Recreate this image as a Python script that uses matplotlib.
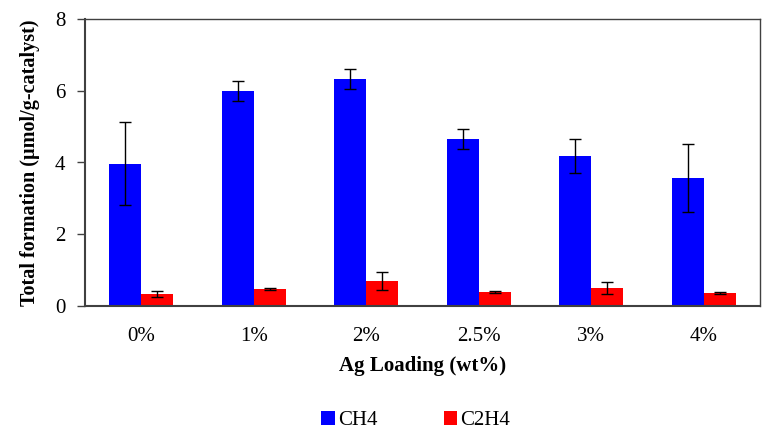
import numpy as np
import matplotlib.pyplot as plt

plt.rcParams['font.family'] = ['Liberation Serif', 'DejaVu Serif']

# Data
loadings = ['0%', '1%', '2%', '2.5%', '3%', '4%']
ch4 = [3.97, 6.00, 6.33, 4.65, 4.19, 3.56]
ch4_err = [1.15, 0.28, 0.28, 0.28, 0.47, 0.95]
c2h4 = [0.33, 0.47, 0.69, 0.39, 0.50, 0.36]
c2h4_err = [0.09, 0.02, 0.25, 0.02, 0.17, 0.02]

fig = plt.figure(figsize=(7.74, 4.36), dpi=100)
ax = fig.add_axes([85 / 774, 1 - 306 / 436, 675 / 774, 287 / 436])

x = np.arange(len(loadings))
w = 0.285
err_kw = dict(ecolor='black', elinewidth=1.0, capsize=4, capthick=1.0)
ax.bar(x - w / 2, ch4, w, yerr=ch4_err, color='#0000ff', label='CH4', error_kw=err_kw)
ax.bar(x + w / 2, c2h4, w, yerr=c2h4_err, color='#ff0000', label='C2H4', error_kw=err_kw)

ax.set_xlim(-0.5, len(loadings) - 0.5)
ax.set_ylim(0, 8)
ax.set_yticks([0, 2, 4, 6, 8])
ax.set_xticks(x)
ax.set_xticklabels(loadings)
ax.tick_params(axis='x', length=0, pad=15, labelsize=15)
ax.tick_params(axis='y', length=6, width=1, color='#404040', labelsize=15, pad=8)

for side in ['top', 'right']:
    ax.spines[side].set_color('#404040')
    ax.spines[side].set_linewidth(1.0)
for side in ['left', 'bottom']:
    ax.spines[side].set_color('#404040')
    ax.spines[side].set_linewidth(1.5)

ax.set_xlabel('Ag Loading (wt%)', fontsize=15, fontweight='bold', labelpad=7)
ax.set_ylabel('Total formation (µmol/g-catalyst)', fontsize=14.5, fontweight='bold', labelpad=11)

ax.legend(loc='upper center', bbox_to_anchor=(0.49, -0.30), ncol=2, frameon=False,
          fontsize=15, handlelength=0.65, handleheight=0.65, handletextpad=0.15,
          columnspacing=3.2)

plt.savefig('out.png', dpi=100)
plt.close()
